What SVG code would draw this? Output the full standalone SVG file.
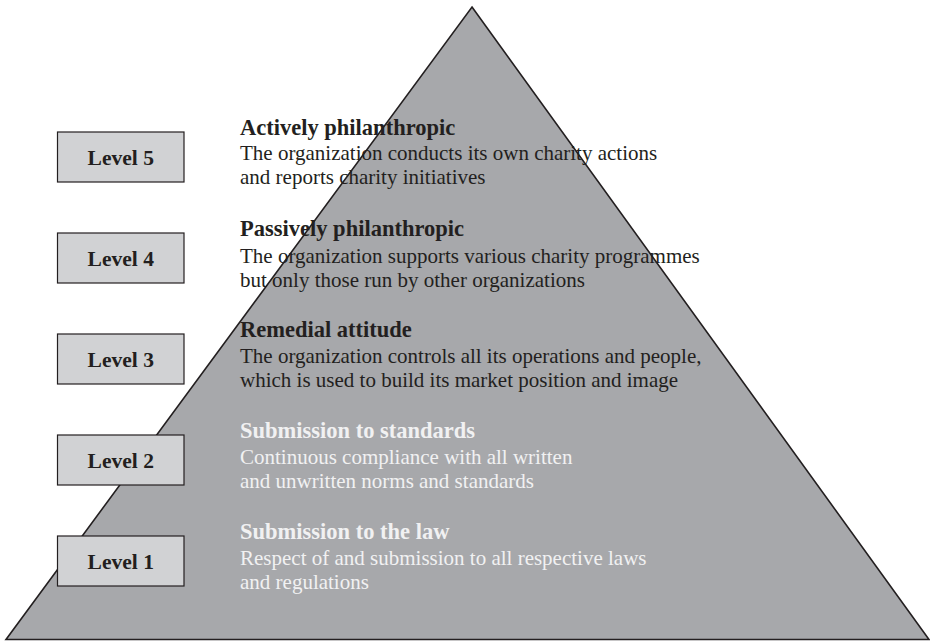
<svg xmlns="http://www.w3.org/2000/svg" width="930" height="641" viewBox="0 0 930 641">
  <style>
    .pyr { fill: #a7a8ab; stroke: #231f20; stroke-width: 1.6; stroke-linejoin: miter; }
    .box { fill: #d1d2d4; stroke: #231f20; stroke-width: 1.2; }
    .lbl { font-family: "Liberation Serif", "Times New Roman", serif; font-weight: bold; font-size: 21.5px; fill: #231f20; text-anchor: middle; }
    .head { font-family: "Liberation Serif", "Times New Roman", serif; font-weight: bold; font-size: 22.5px; }
    .body { font-family: "Liberation Serif", "Times New Roman", serif; font-size: 21px; }
    .dark { fill: #231f20; }
    .light { fill: #f1f1f2; }
  </style>

  <!-- pyramid background -->
  <polygon id="pyramid" class="pyr" points="472,7 929,639.5 6,639.5"/>

  <!-- level 5 -->
  <g id="level5">
    <rect class="box" x="57.5" y="132" width="126.5" height="50"/>
    <text class="lbl" x="120.75" y="165">Level 5</text>
    <text class="head dark" x="240" y="135">Actively philanthropic</text>
    <text class="body dark" x="240" y="160">The organization conducts its own charity actions</text>
    <text class="body dark" x="240" y="184">and reports charity initiatives</text>
  </g>

  <!-- level 4 -->
  <g id="level4">
    <rect class="box" x="57.5" y="233" width="126.5" height="50"/>
    <text class="lbl" x="120.75" y="266">Level 4</text>
    <text class="head dark" x="240" y="236">Passively philanthropic</text>
    <text class="body dark" x="240" y="263">The organization supports various charity programmes</text>
    <text class="body dark" x="240" y="287">but only those run by other organizations</text>
  </g>

  <!-- level 3 -->
  <g id="level3">
    <rect class="box" x="57.5" y="334" width="126.5" height="50"/>
    <text class="lbl" x="120.75" y="367">Level 3</text>
    <text class="head dark" x="240" y="337">Remedial attitude</text>
    <text class="body dark" x="240" y="363">The organization controls all its operations and people,</text>
    <text class="body dark" x="240" y="387">which is used to build its market position and image</text>
  </g>

  <!-- level 2 -->
  <g id="level2">
    <rect class="box" x="57.5" y="435" width="126.5" height="50"/>
    <text class="lbl" x="120.75" y="468">Level 2</text>
    <text class="head light" x="240" y="438">Submission to standards</text>
    <text class="body light" x="240" y="464">Continuous compliance with all written</text>
    <text class="body light" x="240" y="488">and unwritten norms and standards</text>
  </g>

  <!-- level 1 -->
  <g id="level1">
    <rect class="box" x="57.5" y="536" width="126.5" height="50"/>
    <text class="lbl" x="120.75" y="569">Level 1</text>
    <text class="head light" x="240" y="539">Submission to the law</text>
    <text class="body light" x="240" y="565">Respect of and submission to all respective laws</text>
    <text class="body light" x="240" y="589">and regulations</text>
  </g>
</svg>
